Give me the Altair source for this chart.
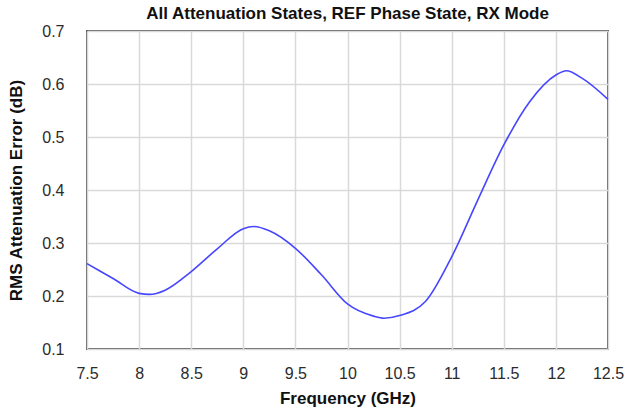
import altair as alt
import pandas as pd

# RMS attenuation error across frequency (all attenuation states, REF phase, RX mode)
freq_ghz = [7.5, 7.75, 8.0, 8.1, 8.25, 8.5, 8.75, 9.0, 9.1, 9.25, 9.5, 9.75,
            10.0, 10.25, 10.35, 10.5, 10.75, 11.0, 11.25, 11.5, 11.75, 12.0,
            12.1, 12.25, 12.5]
rms_error_db = [0.261, 0.233, 0.205, 0.203, 0.211, 0.246, 0.289, 0.327, 0.331,
                0.323, 0.290, 0.240, 0.185, 0.162, 0.158, 0.163, 0.190, 0.274,
                0.381, 0.485, 0.567, 0.617, 0.625, 0.611, 0.571]

x_ticks = [7.5, 8, 8.5, 9, 9.5, 10, 10.5, 11, 11.5, 12, 12.5]
y_ticks = [0.1, 0.2, 0.3, 0.4, 0.5, 0.6, 0.7]

df = pd.DataFrame({"freq": freq_ghz, "rms": rms_error_db})

FONT = "Liberation Sans"

chart = (
    alt.Chart(df)
    .mark_line(color="#4646ff", strokeWidth=1.6, interpolate="monotone")
    .encode(
        x=alt.X(
            "freq:Q",
            title="Frequency (GHz)",
            scale=alt.Scale(domain=[7.5, 12.5], nice=False, zero=False),
            axis=alt.Axis(values=x_ticks, format="~g", ticks=False, domain=False,
                          labelFlush=False, labelPadding=16, titlePadding=9),
        ),
        y=alt.Y(
            "rms:Q",
            title="RMS Attenuation Error (dB)",
            scale=alt.Scale(domain=[0.1, 0.7], nice=False, zero=False),
            axis=alt.Axis(values=y_ticks, format=".1f", ticks=False, domain=False,
                          labelFlush=False, labelPadding=23, titlePadding=16),
        ),
    )
    .properties(
        width=521,
        height=318,
        background="white",
        title=alt.TitleParams(
            "All Attenuation States, REF Phase State, RX Mode",
            font=FONT, fontSize=17, fontWeight="bold", color="#111111",
            anchor="middle", offset=0,
        ),
        autosize=alt.AutoSizeParams(type="none"),
        padding={"left": 87, "top": 31, "right": 20, "bottom": 63},
    )
    .configure_view(stroke="#5a5a5a", strokeWidth=2)
    .configure_axis(
        grid=True, gridColor="#d9d9d9", gridWidth=1.5,
        labelFont=FONT, labelFontSize=16, labelColor="#2b2b2b",
        titleFont=FONT, titleFontSize=17, titleFontWeight="bold", titleColor="#111111",
    )
)

chart.save("out.html", embed_options={"renderer": "svg", "actions": False})
